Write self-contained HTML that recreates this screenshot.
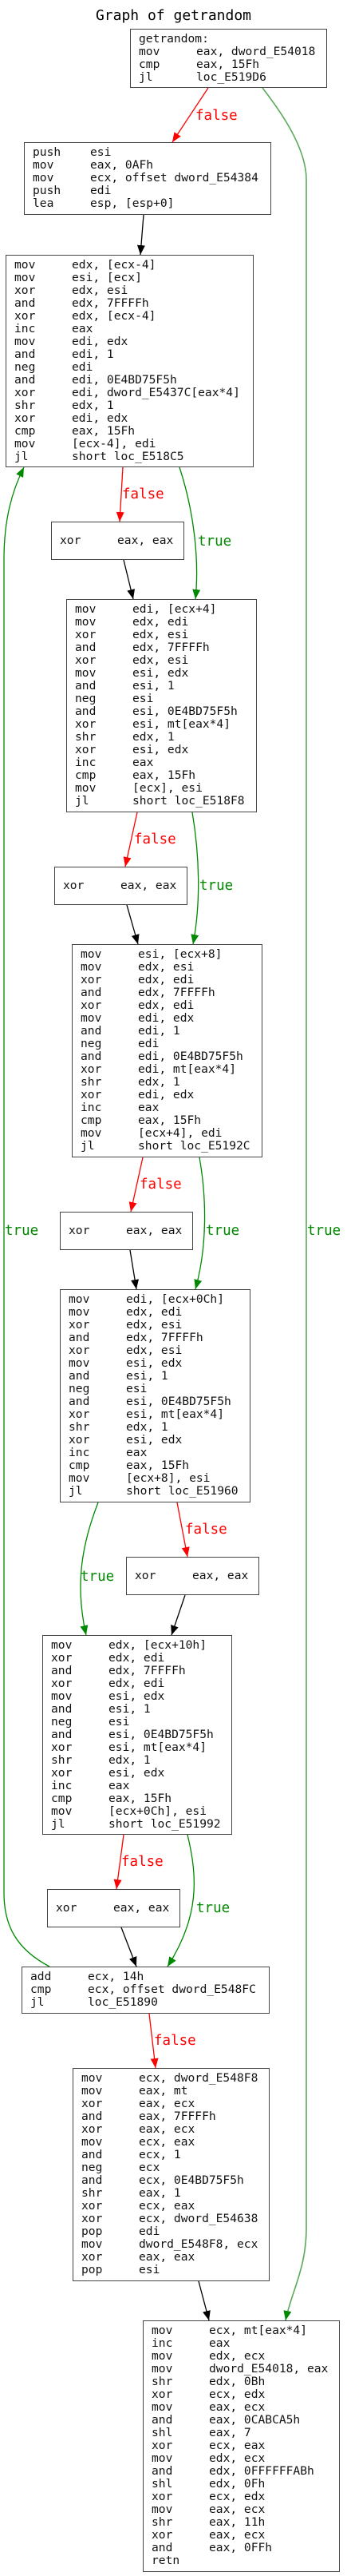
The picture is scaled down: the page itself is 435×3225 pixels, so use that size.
<!DOCTYPE html>
<html><head><meta charset="utf-8">
<style>
html,body{margin:0;padding:0;background:#fff;}
body{width:435px;height:3225px;position:relative;overflow:hidden;font-family:"DejaVu Sans Mono","Liberation Mono",monospace;}
.t{position:absolute;left:0;top:8px;width:435px;text-align:center;font-size:18px;color:#000;line-height:24px;}
.b{position:absolute;box-sizing:border-box;border:1.5px solid #444;background:#fff;padding:4px 0 0 10px;font-size:14.6px;line-height:16px;color:#111;white-space:pre;}
.b.x{padding-top:15px;}
.b i{font-style:normal;display:inline-block;width:72px;}
svg{position:absolute;left:0;top:0;}
.l{font-family:"DejaVu Sans Mono","Liberation Mono",monospace;font-size:17.5px;}
</style></head><body>
<div class="t">Graph of getrandom</div>

<svg width="435" height="3225" viewBox="0 0 435 3225">
<defs>
<marker id="ar" markerUnits="userSpaceOnUse" markerWidth="14" markerHeight="12" refX="12" refY="5" orient="auto"><path d="M0,0 L12,5 L0,10 z" fill="#f00"/></marker>
<marker id="ag" markerUnits="userSpaceOnUse" markerWidth="14" markerHeight="12" refX="12" refY="5" orient="auto"><path d="M0,0 L12,5 L0,10 z" fill="#080"/></marker>
<marker id="ak" markerUnits="userSpaceOnUse" markerWidth="14" markerHeight="12" refX="12" refY="5" orient="auto"><path d="M0,0 L12,5 L0,10 z" fill="#000"/></marker>
</defs>
<g fill="none" stroke-width="1.3">
<path d="M261,110 L216,178" stroke="#f00" marker-end="url(#ar)"/>
<path d="M329,110 C360,150 384,190 384,225 L384,2790 C384,2840 365,2870 358,2905" stroke="#5aaa5a" stroke-width="1.6" marker-end="url(#ag)"/>
<path d="M180,269 L176,319" stroke="#000" marker-end="url(#ak)"/>
<path d="M154,585 L150,653" stroke="#f00" marker-end="url(#ar)"/>
<path d="M225,585 C243,640 250,700 245,750" stroke="#080" marker-end="url(#ag)"/>
<path d="M155,701 L167,750" stroke="#000" marker-end="url(#ak)"/>
<path d="M172,1017 L157,1085" stroke="#f00" marker-end="url(#ar)"/>
<path d="M241,1017 C250,1070 252,1130 242,1182" stroke="#080" marker-end="url(#ag)"/>
<path d="M159,1133 L173,1182" stroke="#000" marker-end="url(#ak)"/>
<path d="M179,1449 L164,1517" stroke="#f00" marker-end="url(#ar)"/>
<path d="M250,1449 C259,1500 260,1560 245,1614" stroke="#080" marker-end="url(#ag)"/>
<path d="M163,1565 L171,1614" stroke="#000" marker-end="url(#ak)"/>
<path d="M123,1881 C100,1940 95,1990 108,2047" stroke="#080" marker-end="url(#ag)"/>
<path d="M222,1881 L235,1949" stroke="#f00" marker-end="url(#ar)"/>
<path d="M232,1997 L215,2047" stroke="#000" marker-end="url(#ak)"/>
<path d="M155,2297 L146,2365" stroke="#f00" marker-end="url(#ar)"/>
<path d="M235,2297 C248,2350 250,2400 210,2462" stroke="#080" marker-end="url(#ag)"/>
<path d="M152,2413 L171,2462" stroke="#000" marker-end="url(#ak)"/>
<path d="M62,2462 C20,2440 5,2410 5,2370 L5,700 C5,650 15,615 30,585" stroke="#080" marker-end="url(#ag)"/>
<path d="M187,2521 L195,2589" stroke="#f00" marker-end="url(#ar)"/>
<path d="M249,2856 L262,2905" stroke="#000" marker-end="url(#ak)"/>
</g>
<g class="l" fill="#f00">
<text x="245" y="150">false</text>
<text x="153" y="624">false</text>
<text x="168" y="1056">false</text>
<text x="175" y="1488">false</text>
<text x="232" y="1920">false</text>
<text x="152" y="2336">false</text>
<text x="193" y="2560">false</text>
</g>
<g class="l" fill="#080">
<text x="248" y="683">true</text>
<text x="250" y="1114">true</text>
<text x="6" y="1546">true</text>
<text x="258" y="1546">true</text>
<text x="385" y="1546">true</text>
<text x="101" y="1979">true</text>
<text x="246" y="2394">true</text>
</g>
</svg>

<div class="b" style="left:163px;top:36px;width:247px;height:74px;">getrandom:
<i>mov</i>eax, dword_E54018
<i>cmp</i>eax, 15Fh
<i>jl</i>loc_E519D6</div>

<div class="b" style="left:30px;top:178px;width:310px;height:91px;"><i>push</i>esi
<i>mov</i>eax, 0AFh
<i>mov</i>ecx, offset dword_E54384
<i>push</i>edi
<i>lea</i>esp, [esp+0]</div>

<div class="b" style="left:7px;top:319px;width:311px;height:266px;"><i>mov</i>edx, [ecx-4]
<i>mov</i>esi, [ecx]
<i>xor</i>edx, esi
<i>and</i>edx, 7FFFFh
<i>xor</i>edx, [ecx-4]
<i>inc</i>eax
<i>mov</i>edi, edx
<i>and</i>edi, 1
<i>neg</i>edi
<i>and</i>edi, 0E4BD75F5h
<i>xor</i>edi, dword_E5437C[eax*4]
<i>shr</i>edx, 1
<i>xor</i>edi, edx
<i>cmp</i>eax, 15Fh
<i>mov</i>[ecx-4], edi
<i>jl</i>short loc_E518C5</div>

<div class="b x" style="left:64px;top:653px;width:167px;height:48px;"><i>xor</i>eax, eax</div>

<div class="b" style="left:83px;top:750px;width:239px;height:267px;"><i>mov</i>edi, [ecx+4]
<i>mov</i>edx, edi
<i>xor</i>edx, esi
<i>and</i>edx, 7FFFFh
<i>xor</i>edx, esi
<i>mov</i>esi, edx
<i>and</i>esi, 1
<i>neg</i>esi
<i>and</i>esi, 0E4BD75F5h
<i>xor</i>esi, mt[eax*4]
<i>shr</i>edx, 1
<i>xor</i>esi, edx
<i>inc</i>eax
<i>cmp</i>eax, 15Fh
<i>mov</i>[ecx], esi
<i>jl</i>short loc_E518F8</div>

<div class="b x" style="left:68px;top:1085px;width:167px;height:48px;"><i>xor</i>eax, eax</div>

<div class="b" style="left:90px;top:1182px;width:239px;height:267px;"><i>mov</i>esi, [ecx+8]
<i>mov</i>edx, esi
<i>xor</i>edx, edi
<i>and</i>edx, 7FFFFh
<i>xor</i>edx, edi
<i>mov</i>edi, edx
<i>and</i>edi, 1
<i>neg</i>edi
<i>and</i>edi, 0E4BD75F5h
<i>xor</i>edi, mt[eax*4]
<i>shr</i>edx, 1
<i>xor</i>edi, edx
<i>inc</i>eax
<i>cmp</i>eax, 15Fh
<i>mov</i>[ecx+4], edi
<i>jl</i>short loc_E5192C</div>

<div class="b x" style="left:75px;top:1517px;width:167px;height:48px;"><i>xor</i>eax, eax</div>

<div class="b" style="left:75px;top:1614px;width:239px;height:267px;"><i>mov</i>edi, [ecx+0Ch]
<i>mov</i>edx, edi
<i>xor</i>edx, esi
<i>and</i>edx, 7FFFFh
<i>xor</i>edx, esi
<i>mov</i>esi, edx
<i>and</i>esi, 1
<i>neg</i>esi
<i>and</i>esi, 0E4BD75F5h
<i>xor</i>esi, mt[eax*4]
<i>shr</i>edx, 1
<i>xor</i>esi, edx
<i>inc</i>eax
<i>cmp</i>eax, 15Fh
<i>mov</i>[ecx+8], esi
<i>jl</i>short loc_E51960</div>

<div class="b x" style="left:158px;top:1949px;width:167px;height:48px;"><i>xor</i>eax, eax</div>

<div class="b" style="left:53px;top:2047px;width:238px;height:250px;"><i>mov</i>edx, [ecx+10h]
<i>xor</i>edx, edi
<i>and</i>edx, 7FFFFh
<i>xor</i>edx, edi
<i>mov</i>esi, edx
<i>and</i>esi, 1
<i>neg</i>esi
<i>and</i>esi, 0E4BD75F5h
<i>xor</i>esi, mt[eax*4]
<i>shr</i>edx, 1
<i>xor</i>esi, edx
<i>inc</i>eax
<i>cmp</i>eax, 15Fh
<i>mov</i>[ecx+0Ch], esi
<i>jl</i>short loc_E51992</div>

<div class="b x" style="left:59px;top:2365px;width:167px;height:48px;"><i>xor</i>eax, eax</div>

<div class="b" style="left:27px;top:2462px;width:311px;height:59px;"><i>add</i>ecx, 14h
<i>cmp</i>ecx, offset dword_E548FC
<i>jl</i>loc_E51890</div>

<div class="b" style="left:91px;top:2589px;width:247px;height:267px;"><i>mov</i>ecx, dword_E548F8
<i>mov</i>eax, mt
<i>xor</i>eax, ecx
<i>and</i>eax, 7FFFFh
<i>xor</i>eax, ecx
<i>mov</i>ecx, eax
<i>and</i>ecx, 1
<i>neg</i>ecx
<i>and</i>ecx, 0E4BD75F5h
<i>shr</i>eax, 1
<i>xor</i>ecx, eax
<i>xor</i>ecx, dword_E54638
<i>pop</i>edi
<i>mov</i>dword_E548F8, ecx
<i>xor</i>eax, eax
<i>pop</i>esi</div>

<div class="b" style="left:179px;top:2905px;width:247px;height:315px;"><i>mov</i>ecx, mt[eax*4]
<i>inc</i>eax
<i>mov</i>edx, ecx
<i>mov</i>dword_E54018, eax
<i>shr</i>edx, 0Bh
<i>xor</i>ecx, edx
<i>mov</i>eax, ecx
<i>and</i>eax, 0CABCA5h
<i>shl</i>eax, 7
<i>xor</i>ecx, eax
<i>mov</i>edx, ecx
<i>and</i>edx, 0FFFFFFABh
<i>shl</i>edx, 0Fh
<i>xor</i>ecx, edx
<i>mov</i>eax, ecx
<i>shr</i>eax, 11h
<i>xor</i>eax, ecx
<i>and</i>eax, 0FFh
<i>retn</i></div>

</body></html>
